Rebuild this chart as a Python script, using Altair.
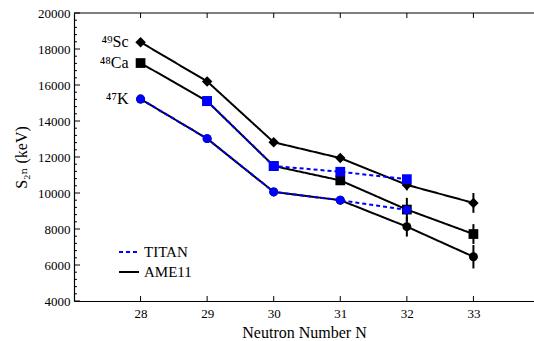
import altair as alt
import pandas as pd

# Neutron numbers and two-neutron separation energies (keV)
N = [28, 29, 30, 31, 32, 33]
sc_ame = [18380, 16200, 12820, 11940, 10450, 9450]
ca_ame = [17220, 15100, 11500, 10700, 9080, 7720]
k_ame = [15220, 13020, 10060, 9600, 8130, 6460]
sc_err = [0, 0, 0, 0, 300, 550]
ca_err = [0, 0, 0, 0, 650, 550]
k_err = [0, 0, 0, 0, 550, 650]

N_ca_titan = [29, 30, 31, 32]
ca_titan = [15110, 11500, 11180, 10770]
N_k_titan = [28, 29, 30, 31, 32]
k_titan = [15220, 13020, 10060, 9600, 9060]

isotopes = ["Sc", "Ca", "K"]
iso_labels = ["⁴⁹Sc", "⁴⁸Ca", "⁴⁷K"]
shapes = ["diamond", "square", "circle"]

x_ticks = [28, 29, 30, 31, 32, 33]
y_major = list(range(4000, 20001, 2000))
y_minor = [v for v in range(4000, 20001, 400) if v % 2000 != 0]
y_top = [20000]

W, H = 460, 288
FONT = "'Liberation Serif', 'Times New Roman', 'DejaVu Serif', serif"

rows = []
for iso, vals, errs in zip(isotopes, [sc_ame, ca_ame, k_ame], [sc_err, ca_err, k_err]):
    for n, v, e in zip(N, vals, errs):
        rows.append({"N": n, "S2n": v, "lo": v - e, "hi": v + e, "iso": iso, "src": "AME11"})
ame = pd.DataFrame(rows)
err = ame[ame["hi"] > ame["lo"]]

trows = []
for iso, ns, vals in [("Ca", N_ca_titan, ca_titan), ("K", N_k_titan, k_titan)]:
    for n, v in zip(ns, vals):
        trows.append({"N": n, "S2n": v, "iso": iso, "src": "TITAN"})
titan = pd.DataFrame(trows)

labels = pd.DataFrame({"N": [28, 28, 28], "S2n": [sc_ame[0], ca_ame[0], k_ame[0]], "label": iso_labels})

xs = alt.Scale(domain=[27, 33.91], nice=False, zero=False)
ys = alt.Scale(domain=[4000, 20000], nice=False, zero=False)
src_color = alt.Scale(domain=["TITAN", "AME11"], range=["#0000ff", "#000000"])
src_dash = alt.Scale(domain=["TITAN", "AME11"], range=[[4, 3], [1, 0]])
shape_scale = alt.Scale(domain=isotopes, range=shapes)
size_scale = alt.Scale(domain=isotopes, range=[110, 80, 100])

font_kw = dict(labelFont=FONT, titleFont=FONT, labelFontSize=13, titleFontSize=16,
               titleFontWeight="normal", labelColor="black", titleColor="black")
x_axis = alt.Axis(values=x_ticks, title="Neutron Number N", labelPadding=6, titlePadding=4, **font_kw)
y_axis = alt.Axis(values=y_major, format="d", title="S₂ₙ (keV)", labelPadding=4, titlePadding=8, **font_kw)


def xe(field="N"):
    return alt.X(f"{field}:Q", scale=xs, axis=x_axis)


def ye(field="S2n"):
    return alt.Y(f"{field}:Q", scale=ys, axis=y_axis)


# frame line along the top of the plot
top = alt.Chart(pd.DataFrame({"S2n": y_top})).mark_rule(color="black", strokeWidth=1.2).encode(y=ye())

# inward tick marks
xt = pd.DataFrame({"N": x_ticks})
xtick_bot = alt.Chart(xt).mark_rule(color="black", strokeWidth=1).encode(
    x=xe(), y=alt.value(H), y2=alt.value(H - 5))
xtick_top = alt.Chart(xt).mark_rule(color="black", strokeWidth=1).encode(
    x=xe(), y=alt.value(0), y2=alt.value(5))
ytick_maj = alt.Chart(pd.DataFrame({"S2n": y_major})).mark_rule(color="black", strokeWidth=1).encode(
    y=ye(), x=alt.value(0), x2=alt.value(6))
ytick_min = alt.Chart(pd.DataFrame({"S2n": y_minor})).mark_rule(color="black", strokeWidth=1).encode(
    y=ye(), x=alt.value(0), x2=alt.value(3))

legend = alt.Legend(
    title=None, orient="none", legendX=44, legendY=228, symbolType="stroke",
    symbolSize=400, symbolStrokeWidth=2, rowPadding=1, labelOffset=4,
    labelFont=FONT, labelFontSize=15, labelColor="black",
)

ame_lines = alt.Chart(ame).mark_line(strokeWidth=2).encode(
    x=xe(), y=ye(), detail="iso:N",
    color=alt.Color("src:N", scale=src_color, legend=legend),
    strokeDash=alt.StrokeDash("src:N", scale=src_dash, legend=legend),
)

errbars = alt.Chart(err).mark_rule(color="black", strokeWidth=2).encode(
    x=xe(), y=ye("lo"), y2="hi:Q")

ame_pts = alt.Chart(ame).mark_point(filled=True, opacity=1, color="black").encode(
    x=xe(), y=ye(),
    shape=alt.Shape("iso:N", scale=shape_scale, legend=None),
    size=alt.Size("iso:N", scale=size_scale, legend=None),
)

titan_lines = alt.Chart(titan).mark_line(strokeWidth=2, color="#0000ff", strokeDash=[4, 3]).encode(
    x=xe(), y=ye(), detail="iso:N")

titan_pts = alt.Chart(titan).mark_point(filled=True, opacity=1, color="#0000ff").encode(
    x=xe(), y=ye(),
    shape=alt.Shape("iso:N", scale=shape_scale, legend=None),
    size=alt.Size("iso:N", scale=size_scale, legend=None),
)

iso_text = alt.Chart(labels).mark_text(
    align="right", baseline="middle", dx=-12, font=FONT, fontSize=16, color="black"
).encode(x=xe(), y=ye(), text="label:N")

chart = alt.layer(
    ame_lines, top, xtick_bot, xtick_top, ytick_maj, ytick_min,
    errbars, ame_pts, titan_lines, titan_pts, iso_text,
).resolve_scale(color="independent", strokeDash="independent", shape="independent").properties(
    width=W, height=H,
    autosize=alt.AutoSizeParams(type="none"),
    padding={"left": 74, "top": 13, "right": 0, "bottom": 40},
    background="white",
).configure(font=FONT).configure_view(stroke=None).configure_axis(
    ticks=False, grid=False, domainColor="black", domainWidth=1.2, **font_kw,
).configure_legend(
    labelFont=FONT, labelFontSize=15, labelColor="black",
)

chart.save("out.html", embed_options={"renderer": "svg", "actions": False})
